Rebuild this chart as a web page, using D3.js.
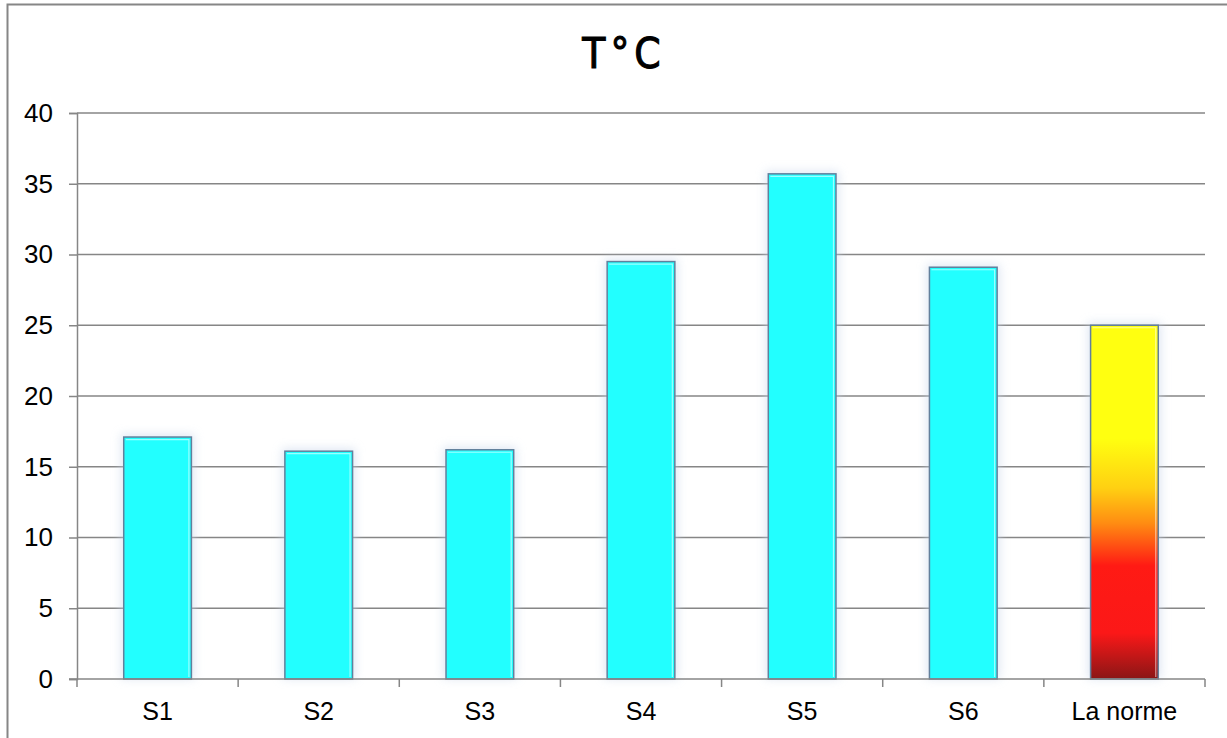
<!DOCTYPE html>
<html>
<head>
<meta charset="utf-8">
<script src="https://cdn.jsdelivr.net/npm/d3@7"></script>
<style>
  html, body { margin: 0; padding: 0; background: #fff; }
  svg { display: block; }
</style>
</head>
<body>
<svg id="chart" width="1227" height="738"></svg>
<script>
// Temperature readings per station, plus the reference norm
const categories = ["S1", "S2", "S3", "S4", "S5", "S6", "La norme"];
const values = [17.1, 16.1, 16.2, 29.5, 35.7, 29.1, 25];
const yTicks = [0, 5, 10, 15, 20, 25, 30, 35, 40];
const title = "T°C";

const svg = d3.select("#chart");
const W = 1227, H = 738;
const plot = { left: 77, right: 1205, top: 113, bottom: 679 };

const x = d3.scaleBand().domain(categories).range([plot.left, plot.right]).paddingInner(0.58).paddingOuter(0.29);
const xb = d3.scaleBand().domain(categories).range([plot.left, plot.right]);
const y = d3.scaleLinear().domain([0, 40]).range([plot.bottom, plot.top]);

const defs = svg.append("defs");
const norm = defs.append("linearGradient").attr("id", "normGrad")
  .attr("x1", 0).attr("y1", 0).attr("x2", 0).attr("y2", 1);
[["0%", "#ffff10"], ["32%", "#ffff10"], ["46%", "#ffd012"], ["56%", "#ff8c12"], ["68%", "#ff1a14"], ["87%", "#fb1818"], ["100%", "#8a1616"]]
  .forEach(([o, c]) => norm.append("stop").attr("offset", o).attr("stop-color", c));

const glow = defs.append("filter").attr("id", "glow").attr("x", "-30%").attr("y", "-10%").attr("width", "160%").attr("height", "120%");
glow.append("feGaussianBlur").attr("stdDeviation", 5);

// outer frame
svg.append("rect").attr("x", 7.5).attr("y", 4.5).attr("width", W + 10).attr("height", H + 10)
  .attr("fill", "none").attr("stroke", "#868686").attr("stroke-width", 2);

// title
svg.append("text").attr("x", 624).attr("y", 68).attr("text-anchor", "middle")
  .attr("font-family", "DejaVu Sans Condensed, DejaVu Sans, sans-serif").attr("font-size", 42)
  .attr("stroke", "#000").attr("stroke-width", 1)
  .attr("letter-spacing", 5).attr("fill", "#000").text(title);

// gridlines
svg.append("g").selectAll("line").data(yTicks.filter(d => d > 0)).join("line")
  .attr("x1", plot.left).attr("x2", plot.right)
  .attr("y1", d => y(d)).attr("y2", d => y(d))
  .attr("stroke", "#868686").attr("stroke-width", 1.5);

// y axis
const yAxis = svg.append("g").attr("transform", `translate(${plot.left},0)`)
  .call(d3.axisLeft(y).tickValues(yTicks).tickSize(8).tickPadding(16));
yAxis.select(".domain").attr("stroke", "#868686").attr("stroke-width", 1.5);
yAxis.selectAll(".tick line").attr("stroke", "#868686").attr("stroke-width", 1.5);
yAxis.selectAll("text").attr("font-family", "Liberation Sans, Arial, sans-serif").attr("font-size", 26).attr("fill", "#000");

// bar glow
svg.append("g").selectAll("rect").data(categories).join("rect")
  .attr("x", d => x(d) - 3).attr("width", x.bandwidth() + 6)
  .attr("y", (d, i) => y(values[i]) - 3).attr("height", (d, i) => y(0) - y(values[i]) + 3)
  .attr("fill", "#c8d6ea").attr("opacity", 0.55).attr("filter", "url(#glow)");

// bars
const bars = svg.append("g");
bars.selectAll("rect.bar").data(categories).join("rect").attr("class", "bar")
  .attr("x", d => x(d)).attr("width", x.bandwidth())
  .attr("y", (d, i) => y(values[i])).attr("height", (d, i) => y(0) - y(values[i]))
  .attr("fill", (d, i) => i === categories.length - 1 ? "url(#normGrad)" : "#22ffff")
  .attr("stroke", "#62809c").attr("stroke-width", 1.5);
// inner highlight along top and right edges
bars.selectAll("path.hl").data(categories).join("path").attr("class", "hl")
  .attr("d", (d, i) => {
    const x0 = x(d) + 2, x1 = x(d) + x.bandwidth() - 2.5, t = y(values[i]) + 2.5, b = y(0) - 2;
    return `M${x0},${t}H${x1}V${b}`;
  })
  .attr("fill", "none").attr("stroke", "#ffffff").attr("stroke-opacity", 0.55).attr("stroke-width", 1.2);

// x axis
const xAxis = svg.append("g").attr("transform", `translate(0,${plot.bottom})`);
xAxis.append("line").attr("x1", plot.left - 8).attr("x2", plot.right)
  .attr("stroke", "#868686").attr("stroke-width", 1.5);
const bounds = categories.map(d => xb(d)).concat([xb(categories[categories.length - 1]) + xb.bandwidth()]);
xAxis.selectAll("line.tk").data(bounds).join("line").attr("class", "tk")
  .attr("x1", d => d).attr("x2", d => d).attr("y1", 0).attr("y2", 8)
  .attr("stroke", "#868686").attr("stroke-width", 1.5);
xAxis.selectAll("text").data(categories).join("text")
  .attr("x", d => xb(d) + xb.bandwidth() / 2).attr("y", 41).attr("text-anchor", "middle")
  .attr("font-family", "Liberation Sans, Arial, sans-serif").attr("font-size", 25).attr("fill", "#000")
  .text(d => d);
</script>
</body>
</html>
